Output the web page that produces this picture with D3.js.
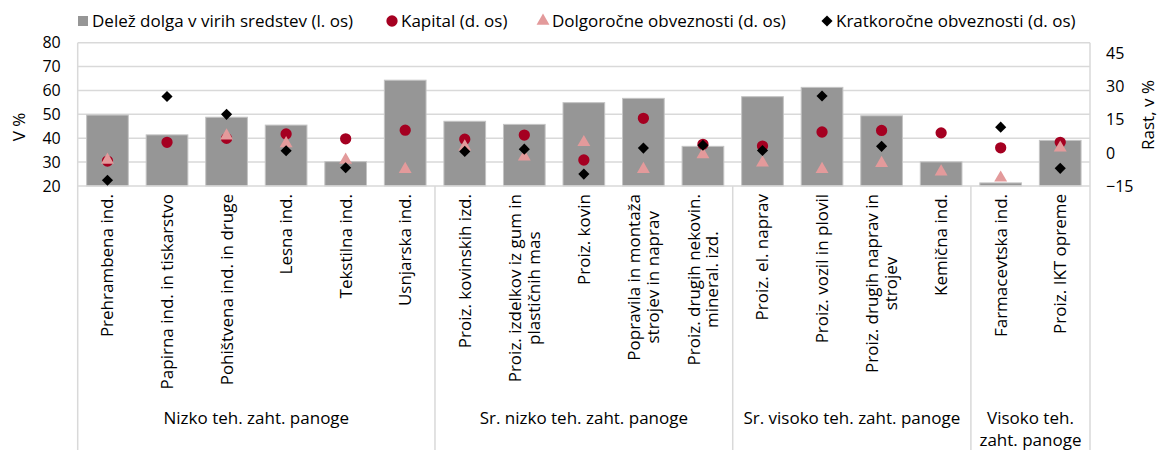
<!DOCTYPE html>
<html>
<head>
<meta charset="utf-8">
<script src="https://cdn.jsdelivr.net/npm/d3@7"></script>
<style>
  body { margin: 0; background: #fff; }
  svg { display: block; font-family: "Open Sans", sans-serif; }
</style>
</head>
<body>
<svg id="chart" width="1160" height="450"></svg>
<script>
// categories, "|" marks a line break in the label
const categories = [
  "Prehrambena ind.",
  "Papirna ind. in tiskarstvo",
  "Pohištvena ind. in druge",
  "Lesna ind.",
  "Tekstilna ind.",
  "Usnjarska ind.",
  "Proiz. kovinskih izd.",
  "Proiz. izdelkov iz gum in|plastičnih mas",
  "Proiz. kovin",
  "Popravila in montaža|strojev in naprav",
  "Proiz. drugih nekovin.|mineral. izd.",
  "Proiz. el. naprav",
  "Proiz. vozil in plovil",
  "Proiz. drugih naprav in|strojev",
  "Kemična ind.",
  "Farmacevtska ind.",
  "Proiz. IKT opreme"
];

const groupNames = ["Nizko teh. zaht. panoge", "Sr. nizko teh. zaht. panoge", "Sr. visoko teh. zaht. panoge", "Visoko teh.|zaht. panoge"];
const groupSizes = [6, 5, 4, 2];

// left axis, %
const debtShare = [49.7, 41.4, 48.8, 45.5, 30.2, 64.3, 47.1, 45.8, 54.9, 56.7, 36.6, 57.4, 61.3, 49.4, 30.1, 21.3, 39.1];
// right axis, growth %
const kapital = [-3.7, 4.8, 6.6, 8.6, 6.4, 10.3, 6.2, 8.1, -3.2, 15.7, 3.9, 3.1, 9.5, 10.2, 9.1, 2.3, 4.8];
const dolgorocne = [-3.2, null, 7.8, 4.3, -3.2, -7.4, 2.8, -1.8, 4.8, -7.4, -0.7, -4.5, -7.4, -4.7, -8.5, -11.3, 2.3];
const kratkorocne = [-12.4, 25.6, 17.5, 1.0, -6.7, null, 0.7, 1.7, -9.6, 2.2, 3.5, 1.1, 25.8, 3.0, null, 11.7, -7.0];

const leftTicks = [20, 30, 40, 50, 60, 70, 80];
const rightTicks = [-15, 0, 15, 30, 45];

const legendItems = [
  { label: "Delež dolga v virih sredstev (l. os)", type: "bar", x: 79 },
  { label: "Kapital (d. os)", type: "circle", x: 392 },
  { label: "Dolgoročne obveznosti (d. os)", type: "triangle", x: 543 },
  { label: "Kratkoročne obveznosti (d. os)", type: "diamond", x: 827 }
];

const svg = d3.select("#chart");
const plotLeft = 77.7, plotRight = 1090, plotTop = 42.7, plotBottom = 186, chartBottom = 450;
const gridColor = "#d9d9d9";
const barColor = "#969696";
const circleColor = "#a50021";
const triColor = "#e39a9b";
const diaColor = "#000";
const fontSize = 17;

const x = d3.scaleBand()
  .domain(categories)
  .range([plotLeft, plotRight])
  .paddingInner(0.3)
  .paddingOuter(0.15);

const yLeft = d3.scaleLinear().domain([20, 80]).range([plotBottom, plotTop]);
const yRight = d3.scaleLinear().domain([-15, 50]).range([plotBottom, plotTop]);

// gridlines
svg.append("g")
  .selectAll("line")
  .data(leftTicks.slice(1))
  .enter().append("line")
  .attr("x1", plotLeft).attr("x2", plotRight)
  .attr("y1", d => yLeft(d)).attr("y2", d => yLeft(d))
  .attr("stroke", gridColor).attr("stroke-width", 1.5);

// frame: left/right border running down through the category area
svg.append("line").attr("x1", plotLeft).attr("x2", plotLeft).attr("y1", plotTop).attr("y2", chartBottom)
  .attr("stroke", gridColor).attr("stroke-width", 1.5);
svg.append("line").attr("x1", plotRight).attr("x2", plotRight).attr("y1", plotTop).attr("y2", chartBottom)
  .attr("stroke", gridColor).attr("stroke-width", 1.5);

// group dividers
const step = x.step();
let acc = 0;
const groups = groupNames.map((name, i) => {
  const start = plotLeft + acc * step;
  acc += groupSizes[i];
  return { name, start, end: plotLeft + acc * step };
});
svg.append("g")
  .selectAll("line")
  .data(groups.slice(0, -1))
  .enter().append("line")
  .attr("x1", d => d.end).attr("x2", d => d.end)
  .attr("y1", plotBottom).attr("y2", chartBottom)
  .attr("stroke", gridColor).attr("stroke-width", 1.5);

// bars
svg.append("g")
  .selectAll("rect")
  .data(debtShare)
  .enter().append("rect")
  .attr("x", (d, i) => x(categories[i]))
  .attr("width", x.bandwidth())
  .attr("y", d => yLeft(d))
  .attr("height", d => plotBottom - yLeft(d))
  .attr("fill", barColor)
  .attr("stroke", "#c4c4c4")
  .attr("stroke-width", 1);

svg.append("line").attr("x1", plotLeft).attr("x2", plotRight).attr("y1", plotBottom).attr("y2", plotBottom)
  .attr("stroke", gridColor).attr("stroke-width", 1.5);

// markers
const symCircle = d3.symbol().type(d3.symbolCircle).size(100);
const symTri = d3.symbol().type(d3.symbolTriangle).size(72);
const symDia = d3.symbol().type(d3.symbolSquare).size(62);

function drawMarkers(values, path, color, rotate) {
  svg.append("g")
    .selectAll("path")
    .data(values.map((v, i) => ({ v, c: categories[i] })).filter(d => d.v !== null))
    .enter().append("path")
    .attr("d", path)
    .attr("fill", color)
    .attr("transform", d => `translate(${x(d.c) + x.bandwidth() / 2},${yRight(d.v)})` + (rotate ? " rotate(45)" : ""));
}
drawMarkers(kapital, symCircle, circleColor, false);
drawMarkers(dolgorocne, symTri, triColor, false);
drawMarkers(kratkorocne, symDia, diaColor, true);

// axes
const yAxisLeft = d3.axisLeft(yLeft).tickValues(leftTicks).tickSize(0).tickPadding(17);
const yAxisRight = d3.axisRight(yRight).tickValues(rightTicks).tickSize(0).tickPadding(16).tickFormat(d3.format("d"));

const gl = svg.append("g").attr("transform", `translate(${plotLeft},0)`).call(yAxisLeft);
const gr = svg.append("g").attr("transform", `translate(${plotRight},0)`).call(yAxisRight);
[gl, gr].forEach(g => {
  g.select(".domain").remove();
  g.selectAll("text").attr("font-size", 16).attr("font-family", "Open Sans").attr("fill", "#000");
});

// axis titles
svg.append("text")
  .attr("transform", "translate(25,127) rotate(-90)")
  .attr("text-anchor", "middle")
  .attr("font-size", fontSize)
  .text("V %");
svg.append("text")
  .attr("transform", "translate(1154,115) rotate(-90)")
  .attr("text-anchor", "middle")
  .attr("font-size", fontSize)
  .text("Rast, v %");

// category labels, rotated, top-aligned under the axis
categories.forEach(c => {
  const lines = c.split("|");
  const g = svg.append("g")
    .attr("transform", `translate(${x(c) + x.bandwidth() / 2},194) rotate(-90)`);
  const lh = fontSize * 1.1;
  const texts = lines.map((t, i) => g.append("text")
    .attr("text-anchor", "middle")
    .attr("font-size", fontSize)
    .attr("y", (i - (lines.length - 1) / 2) * lh)
    .attr("dy", "0.35em")
    .text(t));
  const L = d3.max(texts, t => t.node().getComputedTextLength());
  texts.forEach(t => t.attr("x", -L / 2));
});

// group labels
groups.forEach(gp => {
  const lines = gp.name.split("|");
  lines.forEach((t, i) => {
    svg.append("text")
      .attr("x", (gp.start + gp.end) / 2)
      .attr("y", 424 + i * 22)
      .attr("text-anchor", "middle")
      .attr("font-size", fontSize)
      .text(t);
  });
});

// legend
const lg = svg.append("g");
legendItems.forEach(it => {
  const cy = 21;
  if (it.type === "bar") {
    lg.append("rect").attr("x", it.x - 1).attr("y", cy - 5).attr("width", 10).attr("height", 10).attr("fill", barColor);
  } else if (it.type === "circle") {
    lg.append("path").attr("d", symCircle).attr("fill", circleColor).attr("transform", `translate(${it.x},${cy})`);
  } else if (it.type === "triangle") {
    lg.append("path").attr("d", symTri).attr("fill", triColor).attr("transform", `translate(${it.x},${cy})`);
  } else {
    lg.append("path").attr("d", symDia).attr("fill", diaColor).attr("transform", `translate(${it.x},${cy}) rotate(45)`);
  }
  lg.append("text")
    .attr("x", it.x + (it.type === "bar" ? 13 : 9))
    .attr("y", cy)
    .attr("dy", "0.35em")
    .attr("font-size", fontSize)
    .text(it.label);
});
</script>
</body>
</html>
